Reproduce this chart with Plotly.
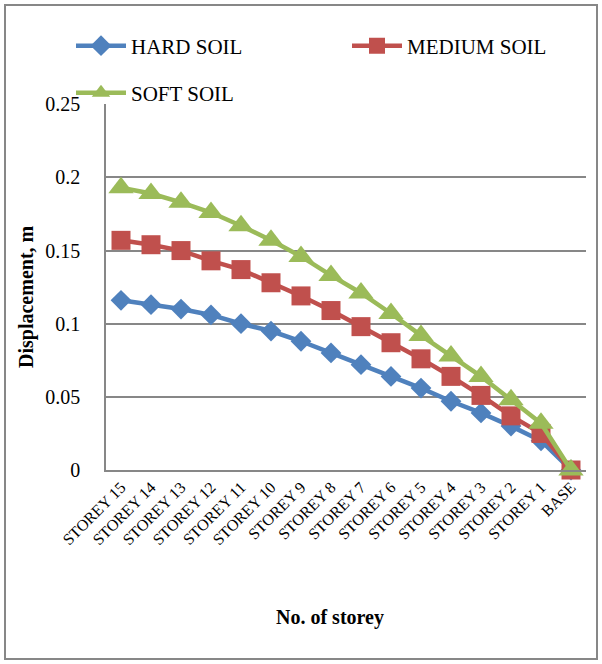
import plotly.graph_objects as go

categories = ["STOREY 15", "STOREY 14", "STOREY 13", "STOREY 12", "STOREY 11",
              "STOREY 10", "STOREY 9", "STOREY 8", "STOREY 7", "STOREY 6",
              "STOREY 5", "STOREY 4", "STOREY 3", "STOREY 2", "STOREY 1", "BASE"]
hard_soil = [0.116, 0.113, 0.110, 0.106, 0.100, 0.095, 0.088, 0.080, 0.072,
             0.064, 0.056, 0.047, 0.039, 0.030, 0.020, 0.0]
medium_soil = [0.157, 0.154, 0.150, 0.143, 0.137, 0.128, 0.119, 0.109, 0.098,
               0.087, 0.076, 0.064, 0.051, 0.037, 0.025, 0.0]
soft_soil = [0.193, 0.189, 0.183, 0.176, 0.167, 0.157, 0.146, 0.133, 0.121,
             0.107, 0.092, 0.078, 0.064, 0.048, 0.032, 0.0]
y_ticks = [0, 0.05, 0.1, 0.15, 0.2, 0.25]
y_tick_text = ["0", "0.05", "0.1", "0.15", "0.2", "0.25"]

FONT = "Liberation Serif, Times New Roman, serif"
GRID = "#878787"

fig = go.Figure()
fig.add_trace(go.Scatter(
    x=categories, y=hard_soil, name="HARD SOIL", mode="lines+markers",
    line=dict(color="#4F81BD", width=4.5),
    marker=dict(symbol="diamond", size=16, color="#4F81BD"),
    cliponaxis=False, legend="legend"))
fig.add_trace(go.Scatter(
    x=categories, y=medium_soil, name="MEDIUM SOIL", mode="lines+markers",
    line=dict(color="#C0504D", width=4.5),
    marker=dict(symbol="square", size=19, color="#C0504D"),
    cliponaxis=False, legend="legend"))
fig.add_trace(go.Scatter(
    x=categories, y=soft_soil, name="SOFT SOIL", mode="lines+markers",
    line=dict(color="#9BBB59", width=4.5),
    marker=dict(symbol="triangle-up", size=22, color="#9BBB59"),
    cliponaxis=False, legend="legend2"))

L, R, T, B = 106, 16, 104, 194
W, H = 602, 664
pw, ph = W - L - R, H - T - B

def px_x(p):
    return (p - L) / pw

def px_y(p):
    return (H - B - p) / ph

fig.update_layout(
    width=W, height=H,
    margin=dict(l=L, r=R, t=T, b=B, autoexpand=False),
    paper_bgcolor="white", plot_bgcolor="white",
    font=dict(family=FONT, color="black", size=20),
    legend=dict(orientation="h", x=px_x(71), xanchor="left",
                y=px_y(46), yanchor="middle", itemwidth=50,
                entrywidth=211, entrywidthmode="pixels",
                font=dict(family=FONT, size=21, color="black"),
                bgcolor="rgba(0,0,0,0)"),
    legend2=dict(orientation="h", x=px_x(71), xanchor="left",
                 y=px_y(93), yanchor="middle", itemwidth=50,
                 font=dict(family=FONT, size=21, color="black"),
                 bgcolor="rgba(0,0,0,0)"),
    xaxis=dict(type="category", tickangle=-45, showgrid=False,
               range=[-0.5, len(categories) - 0.5],
               showline=True, linecolor=GRID, linewidth=1.5,
               tickfont=dict(family=FONT, size=16, color="black"),
               ticks="", zeroline=False),
    yaxis=dict(range=[0, 0.2502], tickvals=y_ticks, ticktext=y_tick_text,
               showgrid=True, gridcolor=GRID, gridwidth=1.5,
               showline=True, linecolor=GRID, linewidth=1.5,
               zeroline=False, ticks="", ticklabelstandoff=20,
               tickfont=dict(family=FONT, size=20, color="black")),
    annotations=[
        dict(text="<b>No. of storey</b>", xref="paper", yref="paper",
             x=px_x(330), y=px_y(617), xanchor="center", yanchor="middle",
             showarrow=False, font=dict(family=FONT, size=20, color="black")),
        dict(text="<b>Displacement, m</b>", xref="paper", yref="paper",
             x=px_x(26), y=px_y(297), xanchor="center", yanchor="middle",
             textangle=-90, showarrow=False,
             font=dict(family=FONT, size=20, color="black")),
    ],
    shapes=[dict(type="rect", xref="paper", yref="paper",
                 x0=px_x(5), x1=px_x(597), y0=px_y(659), y1=px_y(5),
                 line=dict(color=GRID, width=2), layer="below")],
)

fig.write_html("out.html")
